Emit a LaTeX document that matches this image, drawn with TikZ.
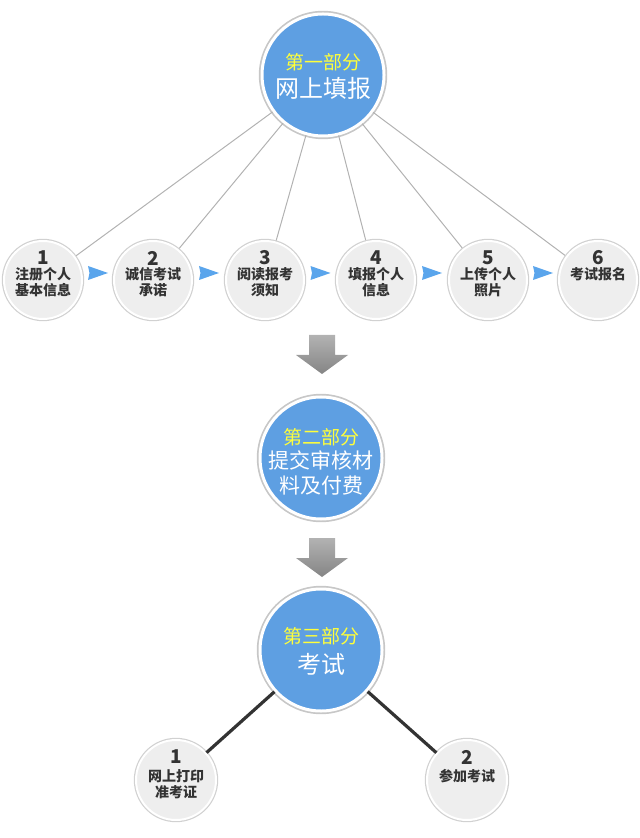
\documentclass[tikz,border=0pt]{standalone}
\usepackage{fontspec}
\newfontfamily\cjk{Noto Sans CJK SC}
\usetikzlibrary{calc,positioning}
\definecolor{partblue}{HTML}{5E9FE2}
\definecolor{partyellow}{HTML}{FFFF3A}
\definecolor{tipblue}{HTML}{5AA5EC}
\definecolor{stepfill}{HTML}{EEEEEE}
\definecolor{steptext}{HTML}{333333}
\begin{document}
\begin{tikzpicture}[x=0.5pt,y=-0.5pt,
  part/.style={circle,minimum size=61pt,inner sep=0pt,fill=partblue,draw=white,line width=1.5pt,preaction={draw=black!22,line width=3.2pt}},
  stepball/.style={circle,minimum size=39pt,inner sep=0pt,fill=stepfill,draw=white,line width=1pt,preaction={draw=black!18,line width=2.2pt}},
  partno/.style={font=\cjk\fontsize{9.5}{10}\selectfont,text=partyellow,inner sep=0pt},
  parttitle/.style={font=\cjk\fontsize{12}{12.5}\selectfont,text=white,align=center,inner sep=0pt},
  stepno/.style={font=\cjk\bfseries\fontsize{9.5}{9.5}\selectfont,text=steptext,inner sep=0pt},
  steptitle/.style={font=\cjk\bfseries\fontsize{7}{8}\selectfont,text=steptext,align=center,inner sep=0pt,anchor=north},
  fan/.style={draw=black!30,line width=0.5pt},
  leg/.style={draw=black!80,line width=1.6pt},
  downarrow/.style={top color=black!30,bottom color=black!48,draw=none}]
\useasboundingbox (0,0) rectangle (640,838);
%%% First part: online form
\node[part] (p1) at (323,75) {};
\node[partno] (p1no) at (323,62) {第一部分};
\node[parttitle] (p1title) at (323,88) {网上填报};
%% six steps
\def\rowy{280}
\foreach \i/\x/\txt in {1/43/注册个人\\基本信息, 2/153/诚信考试\\承诺, 3/265/阅读报考\\须知,
                        4/376/填报个人\\信息, 5/488/上传个人\\照片, 6/598/考试报名}{
  \draw[fan] (p1) -- (\x,\rowy);
  \node[stepball] (s\i) at (\x,\rowy) {};
  \node[stepno] (s\i no) at (\x,258) {\i};
  \node[steptitle] (s\i title) at (\x,267) {\txt};
}
%% blue tips between steps
\foreach \i [evaluate=\i as \j using int(\i+1)] in {1,...,5}{
  \coordinate (tip\i) at ($(s\i)!0.5!(s\j)+(0,-7)$);
  \fill[tipblue] (tip\i) +(-10,-7) -- +(10,0) -- +(-10,7) -- +(-8.5,0) -- cycle;
}
%%% Down arrows
\coordinate (d1) at (322,335);
\coordinate (d2) at (322,538);
\foreach \d in {d1,d2}
  \shade[downarrow] (\d) +(-13,0) -- +(13,0) -- +(13,20) -- +(26,20) -- +(0,39) -- +(-26,20) -- +(-13,20) -- cycle;
%%% Second part: documents and fee
\node[part] (p2) at (321,458) {};
\node[partno] (p2no) at (321,437) {第二部分};
\node[parttitle,font=\cjk\fontsize{10.5}{12.5}\selectfont] (p2title) at (321,472.5) {提交审核材\\料及付费};
%%% Third part: exam
\node[part] (p3) at (321,650) {};
\node[partno] (p3no) at (321,636) {第三部分};
\node[parttitle] (p3title) at (321,664) {考试};
\node[stepball,minimum size=40pt] (b1) at (176,780) {};
\node[stepball,minimum size=40pt] (b2) at (467,780) {};
\draw[leg] (p3) -- (b1);
\draw[leg] (p3) -- (b2);
\node[stepno] (b1no) at (176,757) {1};
\node[steptitle] (b1title) at (176,769) {网上打印\\准考证};
\node[stepno] (b2no) at (467,757) {2};
\node[steptitle] (b2title) at (467,769) {参加考试};
\end{tikzpicture}
\end{document}
